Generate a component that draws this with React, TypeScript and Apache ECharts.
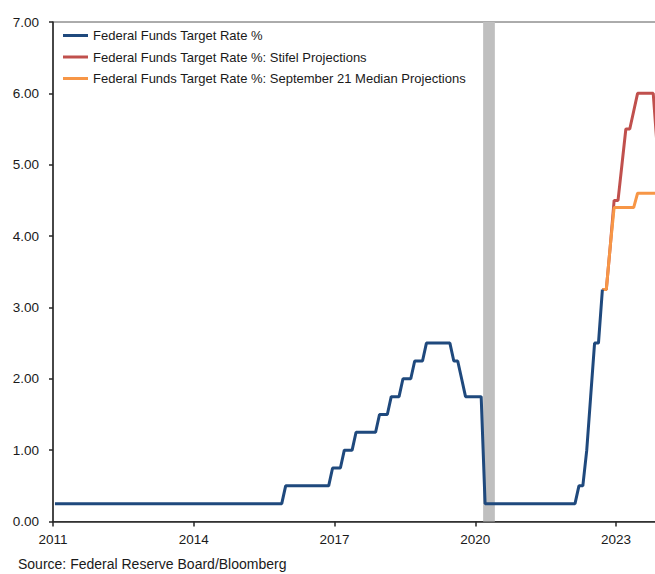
import React, { useEffect, useRef } from "react";
import * as echarts from "echarts";

// Federal Funds Target Rate % (month-end values, "YYYY-MM")
const blueMonths = [
  "2011-01", "2015-11", "2015-12", "2016-11", "2016-12", "2017-02", "2017-03", "2017-05",
  "2017-06", "2017-11", "2017-12", "2018-02", "2018-03", "2018-05", "2018-06", "2018-08",
  "2018-09", "2018-11", "2018-12", "2019-06", "2019-07", "2019-08", "2019-09", "2019-10",
  "2020-02", "2020-03", "2022-02", "2022-03", "2022-04", "2022-05", "2022-06", "2022-07",
  "2022-08", "2022-09",
];
const blueRates = [
  0.25, 0.25, 0.5, 0.5, 0.75, 0.75, 1.0, 1.0,
  1.25, 1.25, 1.5, 1.5, 1.75, 1.75, 2.0, 2.0,
  2.25, 2.25, 2.5, 2.5, 2.25, 2.25, 2.0, 1.75,
  1.75, 0.25, 0.25, 0.5, 0.5, 1.0, 1.75, 2.5,
  2.5, 3.25,
];

// Stifel Projections
const redMonths = [
  "2022-09", "2022-10", "2022-11", "2022-12", "2023-01", "2023-02", "2023-03", "2023-04",
  "2023-05", "2023-06", "2023-07", "2023-08", "2023-09", "2023-10", "2023-11",
];
const redRates = [3.25, 3.25, 3.85, 4.5, 4.5, 5.0, 5.5, 5.5, 5.75, 6.0, 6.0, 6.0, 6.0, 6.0, 5.25];

// September 21 Median Projections
const orangeMonths = [
  "2022-09", "2022-10", "2022-11", "2022-12", "2023-01", "2023-02", "2023-03", "2023-04",
  "2023-05", "2023-06", "2023-07", "2023-08", "2023-09", "2023-10", "2023-11", "2023-12",
];
const orangeRates = [3.25, 3.25, 3.85, 4.4, 4.4, 4.4, 4.4, 4.4, 4.4, 4.6, 4.6, 4.6, 4.6, 4.6, 4.6, 4.6];

// Recession shading (first month, last month)
const recession = ["2020-03", "2020-05"];

const seriesNames = [
  "Federal Funds Target Rate %",
  "Federal Funds Target Rate %: Stifel Projections",
  "Federal Funds Target Rate %: September 21 Median Projections",
];
const seriesColors = ["#1f497d", "#c0504d", "#f79646"];

const yTicks = [0, 1, 2, 3, 4, 5, 6, 7];
const xStartYear = 2011;
const xEndYear = 2024;
const xStep = 3;
const sourceText = "Source: Federal Reserve Board/Bloomberg";

const midMonth = (ym: string) => {
  const [y, m] = ym.split("-").map(Number);
  return y + (m - 0.5) / 12;
};
const monthStart = (ym: string) => {
  const [y, m] = ym.split("-").map(Number);
  return y + (m - 1) / 12;
};
const monthEnd = (ym: string) => {
  const [y, m] = ym.split("-").map(Number);
  return y + m / 12;
};

const FONT = "'Liberation Sans', Arial, sans-serif";
const TEXT = "#1a1a1a";

export default function App() {
  const ref = useRef<HTMLDivElement>(null);
  useEffect(() => {
    if (!ref.current) return;
    const chart = echarts.init(ref.current, undefined, { renderer: "svg" });
    const mk = (months: string[], rates: number[]) => months.map((m, i) => [midMonth(m), rates[i]]);
    const lineIcon = "path://M0,0H25V3H0Z";
    chart.setOption({
      animation: false,
      backgroundColor: "#ffffff",
      textStyle: { fontFamily: FONT },
      grid: {
        left: 53,
        right: 0,
        top: 22,
        bottom: 52.5,
        show: true,
        borderColor: "#595959",
        borderWidth: 1,
        backgroundColor: "transparent",
      },
      legend: {
        orient: "vertical",
        left: 63,
        top: 29,
        padding: 0,
        itemWidth: 25,
        itemHeight: 14,
        itemGap: 8.5,
        data: seriesNames.map((n) => ({ name: n, icon: lineIcon })),
        textStyle: { fontSize: 13, color: TEXT, fontFamily: FONT },
        selectedMode: false,
      },
      xAxis: {
        type: "value",
        min: xStartYear,
        max: xEndYear,
        interval: xStep,
        splitLine: { show: false },
        axisLine: { show: true, lineStyle: { color: "#262626", width: 1.5 } },
        axisTick: { show: true, length: 5, lineStyle: { color: "#262626", width: 1.5 } },
        axisLabel: {
          showMaxLabel: false,
          margin: 11,
          fontSize: 13.5,
          color: TEXT,
          fontFamily: FONT,
          formatter: (v: number) => String(Math.round(v)),
        },
      },
      yAxis: {
        type: "value",
        min: yTicks[0],
        max: yTicks[yTicks.length - 1],
        interval: 1,
        splitLine: { show: false },
        axisLine: { show: true, lineStyle: { color: "#262626", width: 1.5 } },
        axisTick: { show: true, length: 4, lineStyle: { color: "#262626", width: 1.5 } },
        axisLabel: {
          margin: 14,
          fontSize: 13.5,
          color: TEXT,
          fontFamily: FONT,
          formatter: (v: number) => v.toFixed(2),
        },
      },
      graphic: [
        {
          type: "text",
          left: 18,
          top: 557,
          style: { text: sourceText, font: `14px ${FONT}`, fill: TEXT },
        },
      ],
      series: [
        {
          name: "recession",
          type: "line",
          data: [],
          z: 1,
          markArea: {
            silent: true,
            itemStyle: { color: "#bfbfbf" },
            data: [[{ xAxis: monthStart(recession[0]) }, { xAxis: monthEnd(recession[1]) }]],
          },
        },
        {
          name: seriesNames[1],
          type: "line",
          data: mk(redMonths, redRates),
          symbol: "none",
          color: seriesColors[1],
          lineStyle: { color: seriesColors[1], width: 3 },
          z: 3,
        },
        {
          name: seriesNames[2],
          type: "line",
          data: mk(orangeMonths, orangeRates),
          symbol: "none",
          color: seriesColors[2],
          lineStyle: { color: seriesColors[2], width: 3 },
          z: 4,
        },
        {
          name: seriesNames[0],
          type: "line",
          data: mk(blueMonths, blueRates),
          symbol: "none",
          color: seriesColors[0],
          lineStyle: { color: seriesColors[0], width: 3 },
          z: 5,
        },
      ],
    });
    return () => chart.dispose();
  }, []);
  return (
    <div
      style={{
        position: "fixed",
        left: 0,
        top: 0,
        width: 655,
        height: 574,
        overflow: "hidden",
        background: "#fff",
      }}
    >
      <div ref={ref} style={{ width: 663, height: 574 }} />
    </div>
  );
}
